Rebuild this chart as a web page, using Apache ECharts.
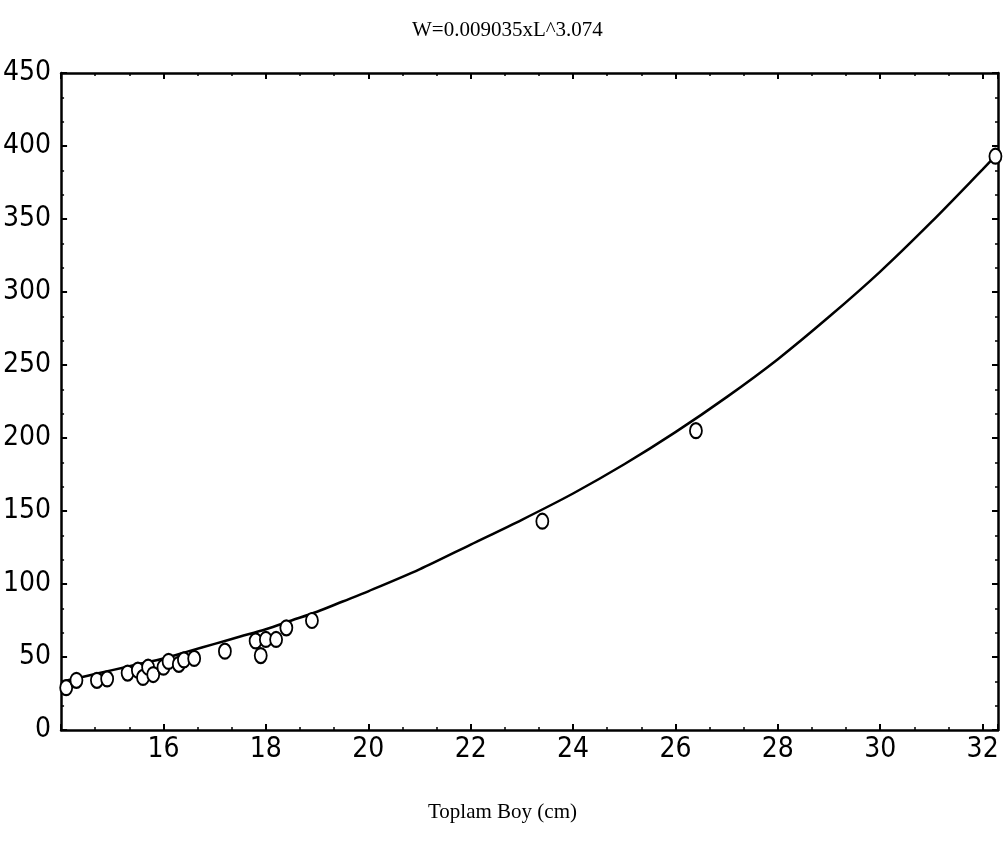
<!DOCTYPE html>
<html lang="tr">
<head>
    <meta charset="utf-8"/>
    <script src="https://cdn.jsdelivr.net/npm/echarts@6.0.0/dist/echarts.min.js"></script>
    <title>Boy - Agirlik</title>
    <style>
        html, body { margin: 0; padding: 0; background: #fff; }
        #main { width: 1003px; height: 852px; }
    </style>
</head>
<body>
<div id="main"></div>
<script type="text/javascript">

    // observed fish: total length (cm) and weight (g)
    var lengthCm = [14.1, 14.3, 14.7, 14.9, 15.3, 15.5, 15.6, 15.7, 15.8, 16.0, 16.1, 16.3,
                    16.4, 16.6, 17.2, 17.8, 17.9, 18.0, 18.2, 18.4, 18.9, 23.4, 26.4, 32.25];
    var weightG  = [29, 34, 34, 35, 39, 41, 36, 43, 38, 43, 47, 45,
                    48, 49, 54, 61, 51, 62, 62, 70, 75, 143, 205, 393];

    // fitted curve
    var fitLength = [14.0, 14.5, 15.0, 15.5, 16.0, 16.5, 17.0, 17.5, 18.0, 18.5, 19.0, 19.5,
                     20, 21, 22, 23, 24, 25, 26, 27, 28, 29, 30, 31, 32, 32.3];
    var fitWeight = [33, 37, 41, 45, 49, 54, 59, 64, 69, 75, 81, 88,
                     95, 110, 127, 144, 162, 182, 204, 228, 254, 283, 314, 348, 384, 395];

    var xTicks = [16, 18, 20, 22, 24, 26, 28, 30, 32];
    var yTicks = [0, 50, 100, 150, 200, 250, 300, 350, 400, 450];

    var titleText = 'W=0.009035xL^3.074';
    var xTitle = 'Toplam Boy (cm)';

    var myChart = echarts.init(document.getElementById('main'));

    var points = lengthCm.map(function (l, i) { return [l, weightG[i]]; });
    var curve = fitLength.map(function (l, i) { return [l, fitWeight[i]]; });

    var labelFont = '"DejaVu Sans Condensed", "Liberation Sans Narrow", sans-serif';
    var tickStyle = {show: true, inside: true, length: 6, lineStyle: {color: '#000', width: 2}};
    var minorStyle = {show: true, splitNumber: 3, length: 3, lineStyle: {color: '#000', width: 1.5}};
    var lineStyle = {show: true, onZero: false, lineStyle: {color: '#000', width: 2.5}};

    var option = {
        animation: false,
        backgroundColor: '#fff',
        grid: {left: 60, right: 5, top: 73, bottom: 122, containLabel: false},
        graphic: [
            {
                type: 'text', left: 412, top: 20,
                style: {text: titleText, font: '21px "Liberation Serif"', fill: '#000'}
            },
            {
                type: 'text', left: 428, top: 802,
                style: {text: xTitle, font: '21px "Liberation Serif"', fill: '#000'}
            }
        ],
        xAxis: [
            {
                type: 'value', min: 14, max: 32.3, interval: 2,
                axisLine: lineStyle, axisTick: tickStyle, minorTick: minorStyle,
                splitLine: {show: false},
                axisLabel: {
                    margin: 6,
                    color: '#000',
                    fontSize: 28,
                    fontFamily: labelFont,
                    formatter: function (v) { return xTicks.indexOf(v) >= 0 ? String(v) : ''; }
                }
            },
            {
                type: 'value', position: 'top', min: 14, max: 32.3, interval: 2,
                axisLine: lineStyle, axisTick: tickStyle, minorTick: minorStyle,
                splitLine: {show: false}, axisLabel: {show: false}
            }
        ],
        yAxis: [
            {
                type: 'value', min: 0, max: 450, interval: 50,
                axisLine: lineStyle, axisTick: tickStyle, minorTick: minorStyle,
                splitLine: {show: false},
                axisLabel: {
                    margin: 10,
                    color: '#000',
                    fontSize: 28,
                    fontFamily: labelFont,
                    formatter: function (v) { return yTicks.indexOf(v) >= 0 ? String(v) : ''; }
                }
            },
            {
                type: 'value', position: 'right', min: 0, max: 450, interval: 50,
                axisLine: lineStyle, axisTick: tickStyle, minorTick: minorStyle,
                splitLine: {show: false}, axisLabel: {show: false}
            }
        ],
        series: [
            {
                name: 'fit',
                type: 'line',
                data: curve,
                smooth: 0.3,
                showSymbol: false,
                lineStyle: {color: '#000', width: 2.5},
                z: 2
            },
            {
                name: 'observed',
                type: 'scatter',
                data: points,
                symbol: 'circle',
                symbolSize: [12, 15],
                itemStyle: {color: '#fff', borderColor: '#000', borderWidth: 2, opacity: 1},
                z: 3
            }
        ]
    };
    myChart.setOption(option);

    window.onresize = myChart.resize;
</script>
</body>
</html>
